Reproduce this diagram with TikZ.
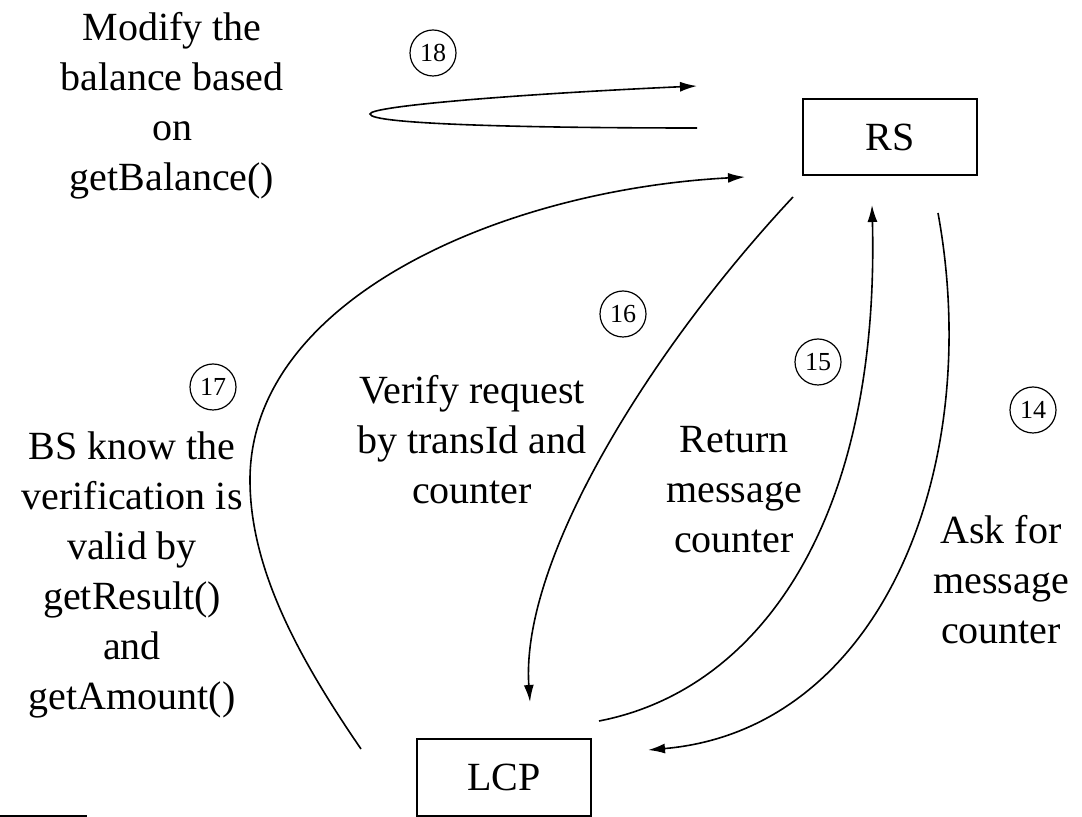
\documentclass[tikz,border=0pt]{standalone}
\usepackage{fontspec}
\setmainfont{Liberation Serif}
\usetikzlibrary{arrows.meta}
\tikzset{
  box/.style={draw, line width=1pt, minimum width=87pt, minimum height=38pt, inner sep=0pt, font=\fontsize{20}{25}\selectfont},
  lbl/.style={align=center, inner sep=0pt, font=\fontsize{20}{25}\selectfont},
  num/.style={draw, circle, line width=0.6pt, minimum size=23pt, inner sep=0pt, font=\fontsize{13}{13}\selectfont},
  conn/.style={line width=0.8pt, -{Latex[length=8.5pt,width=5pt]}},
  plain/.style={line width=0.8pt}
}
\begin{document}
\begin{tikzpicture}[x=0.5pt,y=-0.5pt]
\useasboundingbox (0,0) rectangle (1082,817);
% boxes
\node[box] (RS) at (890,137.5) {RS};
\node[box] (LCP) at (504,777.5) {LCP};
% labels
\node[lbl] (t18) at (172,106) {Modify the\\balance based\\on\\getBalance()};
\node[lbl] (t17) at (132,575) {BS know the\\verification is\\valid by\\getResult()\\and\\getAmount()};
\node[lbl] (t16) at (472,440) {Verify request\\by transId and\\counter};
\node[lbl] (t15) at (734,490) {Return\\message\\counter};
\node[lbl] (t14) at (1001,580) {Ask for\\message\\counter};
% circled numbers
\node[num] (n18) at (433,53) {18};
\node[num] (n17) at (213,387) {17};
\node[num] (n16) at (623,314) {16};
\node[num] (n15) at (818,362) {15};
\node[num] (n14) at (1033,410) {14};
% connector end points
\coordinate (a18) at (697,128);
\coordinate (b18) at (697,86);
\coordinate (a17) at (361,749);
\coordinate (b17) at (745,177);
\coordinate (a16) at (793,197);
\coordinate (b16) at (530,702);
\coordinate (a15) at (599,721);
\coordinate (b15) at (872,205);
\coordinate (a14) at (938,213);
\coordinate (b14) at (648,750);
% connectors
\draw[conn] (a18) .. controls (520,128) and (370,124) .. (370,114) .. controls (370,106) and (520,94) .. (b18);
\draw[conn] (a17) .. controls (300,660) and (250,570) .. (250,480) .. controls (250,300) and (500,190) .. (b17);
\draw[conn] (a16) .. controls (650,350) and (520,560) .. (b16);
\draw[conn] (a15) .. controls (760,690) and (880,520) .. (b15);
\draw[conn] (a14) .. controls (985,470) and (880,730) .. (b14);
% short rule at bottom left
\coordinate (r1) at (0,816);
\coordinate (r2) at (87,816);
\draw[line width=1pt] (r1) -- (r2);
\end{tikzpicture}
\end{document}
